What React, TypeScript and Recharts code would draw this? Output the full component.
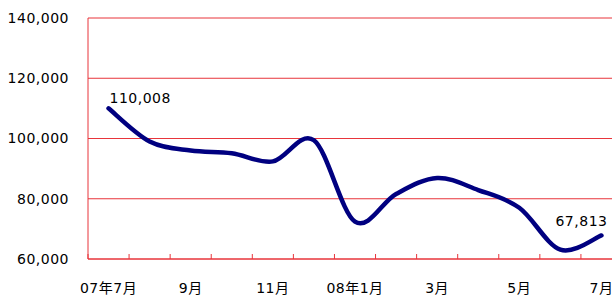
import React from "react";
import { LineChart, Line, XAxis, YAxis, CartesianGrid } from "recharts";

const categories = ["07年7月", "8月", "9月", "10月", "11月", "12月", "08年1月", "2月", "3月", "4月", "5月", "6月", "7月"];
const values = [110008, 99000, 96000, 95100, 92400, 99400, 72400, 81600, 86900, 82900, 77000, 63100, 67813];
const yTicks = [60000, 80000, 100000, 120000, 140000];
const labelTickIdx = [0, 2, 4, 6, 8, 10, 12];
const boundaryTicks = [-0.5, 0.5, 1.5, 2.5, 3.5, 4.5, 5.5, 6.5, 7.5, 8.5, 9.5, 10.5, 11.5, 12.5];

const data = categories.map((c, i) => ({ idx: i, cat: c, value: values[i] }));

const RED = "#e8353b";
const FONT = "'DejaVu Sans', 'Noto Sans CJK JP', sans-serif";

const excelCurve: any = (context: any) => {
  let pts: number[][] = [];
  return {
    areaStart() {},
    areaEnd() {},
    lineStart() {
      pts = [];
    },
    point(x: number, y: number) {
      pts.push([+x, +y]);
    },
    lineEnd() {
      const n = pts.length;
      if (!n) return;
      context.moveTo(pts[0][0], pts[0][1]);
      for (let i = 0; i < n - 1; i++) {
        const p0 = pts[i - 1] || pts[i];
        const p1 = pts[i];
        const p2 = pts[i + 1];
        const p3 = pts[i + 2] || pts[i + 1];
        context.bezierCurveTo(
          p1[0] + (p2[0] - p0[0]) / 6,
          p1[1] + (p2[1] - p0[1]) / 6,
          p2[0] - (p3[0] - p1[0]) / 6,
          p2[1] - (p3[1] - p1[1]) / 6,
          p2[0],
          p2[1]
        );
      }
    },
  };
};

const fmt = (v: number) => v.toLocaleString("en-US");

const renderLabel = (props: any) => {
  const { x, y, index, value } = props;
  if (index === 0) {
    return (
      <text x={x + 1} y={y - 5} fontSize={14} fontFamily={FONT} fill="#000" letterSpacing={0.5} textAnchor="start">
        {fmt(value)}
      </text>
    );
  }
  if (index === values.length - 1) {
    return (
      <text x={x - 20} y={y - 9} fontSize={14} fontFamily={FONT} fill="#000" letterSpacing={0.5} textAnchor="middle">
        {fmt(value)}
      </text>
    );
  }
  return null;
};

const EmptyTick = () => <g />;

export default function App() {
  return (
    <div style={{ position: "fixed", left: 0, top: 0, width: 612, height: 295, overflow: "hidden", background: "#fff" }}>
      <LineChart width={622} height={295} data={data} margin={{ top: 18, right: 0, left: 0, bottom: 0 }}>
        <CartesianGrid horizontal={true} vertical={false} stroke={RED} strokeWidth={1} xAxisId="a_ticks" />
        <XAxis
          xAxisId="a_ticks"
          dataKey="idx"
          type="number"
          domain={[-0.5, 12.5]}
          ticks={boundaryTicks}
          height={1}
          tick={EmptyTick}
          tickSize={-5}
          tickLine={{ stroke: RED, strokeWidth: 1 }}
          axisLine={{ stroke: RED }}
          interval={0}
        />
        <XAxis
          xAxisId="b_labels"
          dataKey="idx"
          type="number"
          domain={[-0.5, 12.5]}
          ticks={labelTickIdx}
          height={35}
          tickSize={0}
          tickMargin={23}
          tickLine={false}
          axisLine={false}
          interval={0}
          tickFormatter={(v: number) => categories[v]}
          tick={{ fontSize: 14, fontFamily: FONT, fill: "#000", letterSpacing: 0.5 }}
        />
        <YAxis
          domain={[60000, 140000]}
          ticks={yTicks}
          width={88}
          tickLine={false}
          tickSize={0}
          tickMargin={19}
          axisLine={{ stroke: RED }}
          tickFormatter={fmt}
          tick={{ fontSize: 14, fontFamily: FONT, fill: "#000", letterSpacing: 0.5 }}
        />
        <Line
          xAxisId="a_ticks"
          dataKey="value"
          type={excelCurve}
          stroke="#000080"
          strokeWidth={4.5}
          strokeLinecap="round"
          dot={false}
          isAnimationActive={false}
          label={renderLabel}
        />
      </LineChart>
    </div>
  );
}
